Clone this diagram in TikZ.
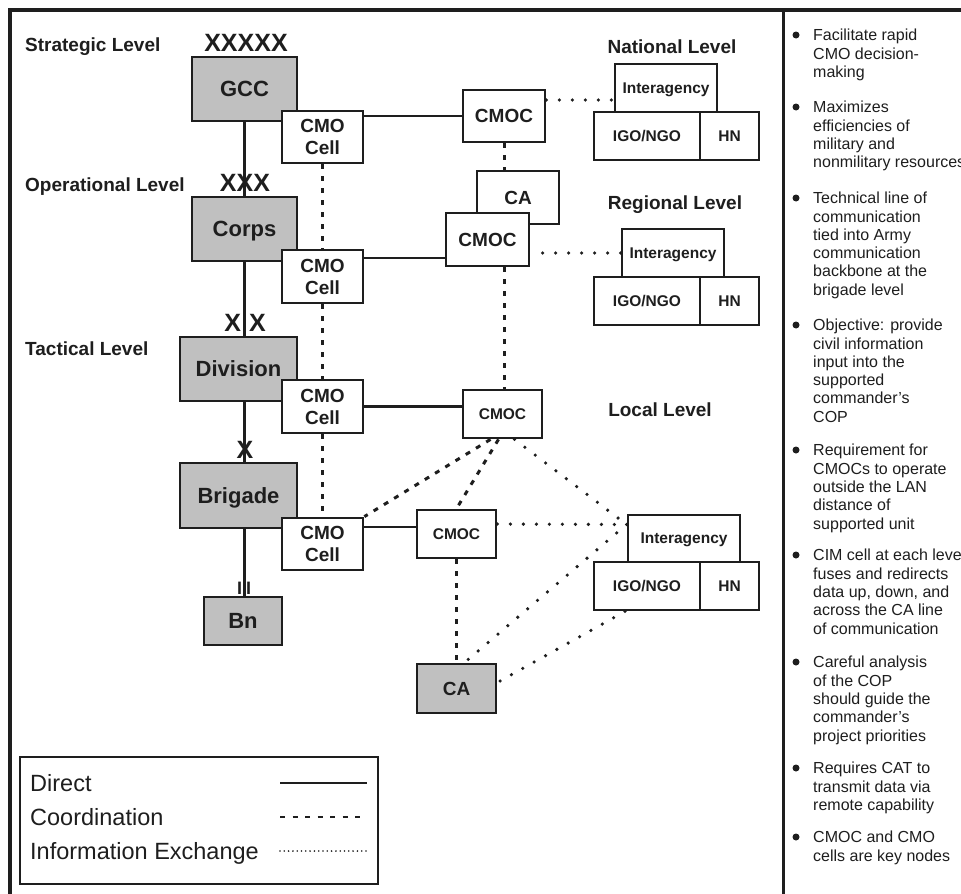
\documentclass[tikz,border=0pt]{standalone}
\usepackage{fontspec}
\setmainfont{Liberation Sans}
\usetikzlibrary{calc}
\definecolor{unitgray}{RGB}{192,192,192}
\definecolor{ink}{RGB}{30,30,30}
\begin{document}
\begin{tikzpicture}[x=1pt,y=-1pt,
  every node/.style={text=ink},
  box/.style={draw=ink, line width=2.8pt, fill=white, inner sep=0pt, align=center,
    font=\bfseries\fontsize{19}{22}\selectfont},
  unit/.style={box, fill=unitgray, text depth=0pt, font=\bfseries\fontsize{22}{24}\selectfont},
  smallbox/.style={box, text depth=0pt, font=\bfseries\fontsize{15.5}{18}\selectfont},
  direct/.style={draw=ink, line width=2.5pt},
  coordline/.style={draw=ink, line width=3pt, dash pattern=on 5pt off 7pt},
  infoline/.style={draw=ink, line width=3.6pt, line cap=round, dash pattern=on 0pt off 13pt},
  level/.style={inner sep=0pt, text depth=0pt, font=\bfseries\fontsize{19}{22}\selectfont},
  echelon/.style={inner sep=0pt, text depth=0pt, font=\bfseries\fontsize{25}{25}\selectfont},
  legtext/.style={anchor=west, inner sep=0pt, text depth=0pt, font=\fontsize{23.5}{26}\selectfont},
  note/.style={anchor=north west, inner sep=0pt, align=left, font=\fontsize{16}{18.3}\selectfont},
]
\useasboundingbox (0,0) rectangle (961,894);
\clip (0,0) rectangle (961,894);
\fill[white] (0,0) rectangle (961,894);

% outer frame and column divider
\draw[ink, line width=3.5pt] (10,894) -- (10,10) -- (961,10);
\draw[ink, line width=3pt] (783,10) -- (783,894);

% level captions
\node[level, anchor=west] (lvS) at (25,45) {Strategic Level};
\node[level, anchor=west] (lvO) at (25,185) {Operational Level};
\node[level, anchor=west] (lvT) at (25,349) {Tactical Level};
\node[level] (lvN) at (672,47) {National Level};
\node[level] (lvR) at (675,203) {Regional Level};
\node[level] (lvL) at (660,410) {Local Level};

% military chain of command
\node[unit, minimum width=105pt, minimum height=64pt] (gcc) at (244.5,89) {GCC};
\node[unit, minimum width=105pt, minimum height=64pt] (corps) at (244.5,229) {Corps};
\node[unit, minimum width=117pt, minimum height=64pt] (division) at (238.5,369) {Division};
\node[unit, minimum width=117pt, minimum height=65pt] (brigade) at (238.5,495.5) {Brigade};
\node[unit, minimum width=78pt, minimum height=48pt] (bn) at (243,621) {Bn};

\draw[direct] (gcc.south) -- (corps.north);
\draw[direct] (corps.south) -- (corps.south |- division.north);
\draw[direct] (corps.south |- division.south) -- (corps.south |- brigade.north);
\draw[direct] (corps.south |- brigade.south) -- (corps.south |- bn.north);

% echelon symbols
\node[echelon] (e5) at (246,43) {XXXXX};
\node[echelon] (e3) at (245,183) {XXX};
\node[echelon] (e2) at (245,323) {X\hspace{8pt}X};
\node[echelon] (e1) at (245,450) {X};
\node[inner sep=0pt, text depth=0pt, font=\bfseries\fontsize{18}{18}\selectfont] (e0) at (244,588) {I\hspace{4pt}I};

% CMO cells
\node[box, minimum width=81pt, minimum height=52pt] (cell1) at (322.5,137) {CMO\\Cell};
\node[box, minimum width=81pt, minimum height=53pt] (cell2) at (322.5,276.5) {CMO\\Cell};
\node[box, minimum width=81pt, minimum height=53pt] (cell3) at (322.5,406.5) {CMO\\Cell};
\node[box, minimum width=81pt, minimum height=52pt] (cell4) at (322.5,544) {CMO\\Cell};

% national level
\node[box, minimum width=82pt, minimum height=52pt] (cmocN) at (504,116) {CMOC};
\node[smallbox, minimum width=102pt, minimum height=48pt] (intN) at (666,88) {Interagency};
\node[smallbox, minimum width=106pt, minimum height=48pt] (igoN) at (647,136) {IGO/NGO};
\node[smallbox, minimum width=59pt, minimum height=48pt] (hnN) at (729.5,136) {HN};

% regional level
\node[box, minimum width=82pt, minimum height=53pt] (caR) at (518,197.5) {CA};
\node[box, minimum width=83pt, minimum height=53pt] (cmocR) at (487.5,239.5) {CMOC};
\node[smallbox, minimum width=102pt, minimum height=48pt] (intR) at (673,253) {Interagency};
\node[smallbox, minimum width=106pt, minimum height=48pt] (igoR) at (647,301) {IGO/NGO};
\node[smallbox, minimum width=59pt, minimum height=48pt] (hnR) at (729.5,301) {HN};

% local level
\node[smallbox, minimum width=79pt, minimum height=48pt] (cmocL) at (502.5,414) {CMOC};
\node[smallbox, minimum width=79pt, minimum height=48pt] (cmocS) at (456.5,534) {CMOC};
\node[smallbox, minimum width=112pt, minimum height=47pt] (intL) at (684,538.5) {Interagency};
\node[smallbox, minimum width=106pt, minimum height=48pt] (igoL) at (647,586) {IGO/NGO};
\node[smallbox, minimum width=59pt, minimum height=48pt] (hnL) at (729.5,586) {HN};
\node[unit, minimum width=79pt, minimum height=49pt, font=\bfseries\fontsize{19}{22}\selectfont] (caB) at (456.5,688.5) {CA};

% direct links
\draw[direct] (cmocN.west) -- (cmocN.west -| cell1.east);
\draw[direct] ([yshift=-18.5pt]cmocR.west) -- ([yshift=-18.5pt]cmocR.west -| cell2.east);
\draw[direct] (cell3.east) -- (cell3.east -| cmocL.west);
\draw[direct] ([yshift=7pt]cmocS.west) -- ([yshift=7pt]cmocS.west -| cell4.east);

% coordination links
\draw[coordline] (cell1.south) -- (cell2.north);
\draw[coordline] (cell2.south) -- (cell3.north);
\draw[coordline] (cell3.south) -- (cell4.north);
\draw[coordline] (cmocN.south) -- (cmocN.south |- caR.north);
\draw[coordline] (cmocN.south |- cmocR.south) -- (cmocN.south |- cmocL.north);
\draw[coordline] ([xshift=-12pt]cmocL.south) -- (cell4.north east);
\draw[coordline] ([xshift=-4pt]cmocL.south) -- (cmocS.north);
\draw[coordline] (cmocS.south) -- (caB.north);

% information exchange links
\coordinate (hubL) at ([yshift=14pt]intL.west);
\draw[infoline] ([yshift=16pt]cmocN.east) -- ([yshift=16pt]cmocN.east -| intN.west);
\draw[infoline] (intR.west) -- (intR.west -| cmocR.east);
\draw[infoline] ([xshift=12pt]cmocL.south) -- (hubL);
\draw[infoline] ([yshift=10pt]cmocS.east) -- (hubL);
\draw[infoline] (hubL) -- ([xshift=8pt]caB.north);
\draw[infoline] ([xshift=-22pt]igoL.south) -- ([yshift=6pt]caB.east);

% legend
\node[draw=ink, line width=2.5pt, fill=white, inner sep=0pt, minimum width=358pt, minimum height=127pt] (legend) at (199,820.5) {};
\node[legtext] (lgD) at (30,783) {Direct};
\node[legtext] (lgC) at (30,817) {Coordination};
\node[legtext] (lgI) at (30,851) {Information Exchange};
\coordinate (kD1) at (280,783); \coordinate (kD2) at (367,783);
\coordinate (kC1) at (280,817); \coordinate (kC2) at (367,817);
\coordinate (kI1) at (280,851); \coordinate (kI2) at (367,851);
\draw[ink, line width=2.8pt] (kD1) -- (kD2);
\draw[ink, line width=2.8pt, dash pattern=on 5pt off 7.5pt] (kC1) -- (kC2);
\draw[ink, line width=1.8pt, line cap=round, dash pattern=on 0pt off 4.3pt] (kI1) -- (kI2);

% notes column
\foreach \yy in {35,107,198,325,450,555,662,768,837}
  \fill[ink] (796,\yy) circle (3.5);
\node[note] (n1) at (813,29) {Facilitate rapid\\CMO decision-\\making};
\node[note] (n2) at (813,101) {Maximizes\\efficiencies of\\military and\\nonmilitary resources};
\node[note] (n3) at (813,192) {Technical line of\\communication\\tied into Army\\communication\\backbone at the\\brigade level};
\node[note] (n4) at (813,319) {Objective: provide\\civil information\\input into the\\supported\\commander’s\\COP};
\node[note] (n5) at (813,444) {Requirement for\\CMOCs to operate\\outside the LAN\\distance of\\supported unit};
\node[note] (n6) at (813,549) {CIM cell at each level\\fuses and redirects\\data up, down, and\\across the CA line\\of communication};
\node[note] (n7) at (813,656) {Careful analysis\\of the COP\\should guide the\\commander’s\\project priorities};
\node[note] (n8) at (813,762) {Requires CAT to\\transmit data via\\remote capability};
\node[note] (n9) at (813,831) {CMOC and CMO\\cells are key nodes};
\end{tikzpicture}
\end{document}
